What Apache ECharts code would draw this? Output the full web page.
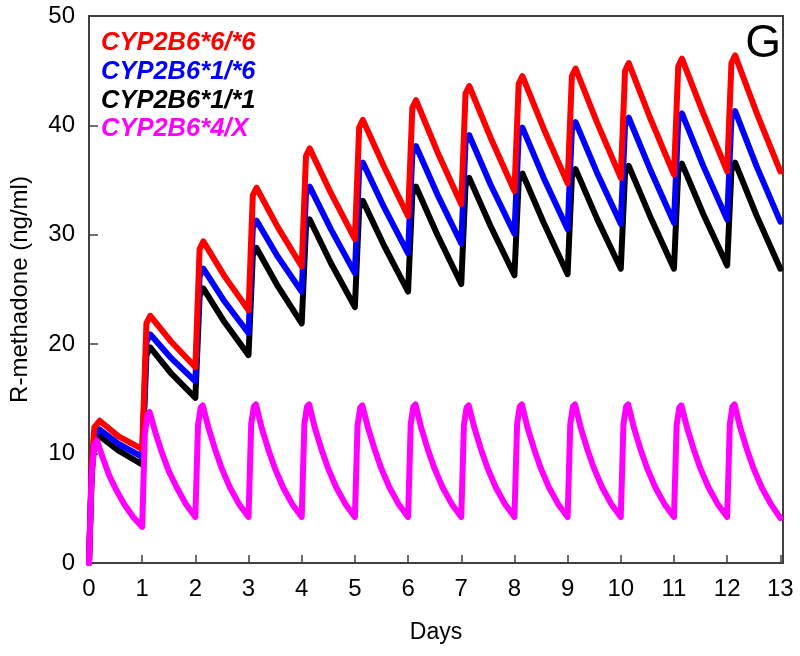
<!DOCTYPE html>
<html><head><meta charset="utf-8">
<script src="https://cdn.jsdelivr.net/npm/echarts@6/dist/echarts.min.js"></script>
<style>html,body{margin:0;padding:0;background:#fff}#c{width:800px;height:656px}</style>
</head><body><div id="c"></div>
<script>
// Time points (days) for the three CYP2B6 *6/*6, *1/*6, *1/*1 curves
const mainTimes = [0,0.05,0.1,0.2,0.55,
 1,1.08,1.15,1.55, 2,2.08,2.15,2.55, 3,3.08,3.15,3.55, 4,4.08,4.15,4.55,
 5,5.08,5.15,5.55, 6,6.08,6.15,6.55, 7,7.08,7.15,7.55, 8,8.08,8.15,8.55,
 9,9.08,9.15,9.55, 10,10.08,10.15,10.55, 11,11.08,11.15,11.55, 12,12.08,12.15,12.55, 13];
const red66 = [0,9.0,12.4,13.0,11.6,
 10.4,21.9,22.6,20.2, 17.9,28.7,29.4,26.2, 23.1,33.6,34.3,30.7, 27.1,37.2,37.9,33.8,
 29.6,39.8,40.5,36.2, 31.7,41.6,42.3,37.6, 32.8,42.9,43.6,38.9, 34.0,43.8,44.5,39.7,
 34.7,44.5,45.2,40.3, 35.2,45.0,45.7,40.7, 35.5,45.4,46.1,41.1, 35.8,45.7,46.4,41.2, 35.8];
const blue16 = [0,8.5,11.6,12.2,10.9,
 9.7,20.2,20.9,18.7, 16.6,26.2,26.9,23.9, 21.0,30.6,31.3,28.0, 24.8,33.7,34.4,30.5,
 26.5,35.9,36.6,32.5, 28.3,37.4,38.1,33.7, 29.2,38.4,39.1,34.6, 30.1,39.1,39.8,35.2,
 30.5,39.6,40.3,35.7, 31.0,40.0,40.7,36.0, 31.1,40.4,41.1,36.3, 31.4,40.6,41.3,36.3, 31.2];
const black11 = [0,8.0,11.0,11.6,10.3,
 9.0,19.0,19.7,17.3, 15.1,24.4,25.1,22.0, 19.0,28.1,28.8,25.3, 21.9,30.7,31.4,27.4,
 23.4,32.4,33.1,29.0, 24.8,33.7,34.4,30.0, 25.5,34.5,35.2,30.8, 26.3,34.9,35.6,31.1,
 26.4,35.3,36.0,31.5, 26.9,35.6,36.3,31.7, 26.9,35.8,36.5,31.9, 27.2,35.9,36.6,31.8, 26.9];
// Time points for the CYP2B6*4/X curve
const magTimes = [0,0.05,0.1,0.15,0.26,0.38,0.51,0.66,0.83,
 1,1.05,1.1,1.14,1.25,1.37,1.5,1.65,1.82,
 2,2.05,2.1,2.14,2.25,2.37,2.5,2.65,2.82,
 3,3.05,3.1,3.14,3.25,3.37,3.5,3.65,3.82,
 4,4.05,4.1,4.14,4.25,4.37,4.5,4.65,4.82,
 5,5.05,5.1,5.14,5.25,5.37,5.5,5.65,5.82,
 6,6.05,6.1,6.14,6.25,6.37,6.5,6.65,6.82,
 7,7.05,7.1,7.14,7.25,7.37,7.5,7.65,7.82,
 8,8.05,8.1,8.14,8.25,8.37,8.5,8.65,8.82,
 9,9.05,9.1,9.14,9.25,9.37,9.5,9.65,9.82,
 10,10.05,10.1,10.14,10.25,10.37,10.5,10.65,10.82,
 11,11.05,11.1,11.14,11.25,11.37,11.5,11.65,11.82,
 12,12.05,12.1,12.14,12.25,12.37,12.5,12.65,12.82, 13];
const mag4X = [0,8.0,10.8,11.2,9.6,8.0,6.7,5.4,4.2,
 3.3,11.8,13.5,13.8,11.9,10.1,8.4,6.9,5.4,
 4.2,12.6,14.2,14.4,12.3,10.4,8.6,6.9,5.4,
 4.2,12.7,14.3,14.5,12.3,10.4,8.6,6.9,5.4,
 4.2,12.7,14.3,14.5,12.3,10.4,8.6,6.9,5.4,
 4.2,12.6,14.2,14.4,12.3,10.4,8.6,6.9,5.4,
 4.2,12.7,14.3,14.5,12.3,10.4,8.6,6.9,5.4,
 4.2,12.6,14.2,14.4,12.3,10.4,8.6,6.9,5.4,
 4.2,12.7,14.3,14.5,12.3,10.4,8.6,6.9,5.4,
 4.2,12.7,14.3,14.5,12.3,10.4,8.6,6.9,5.4,
 4.2,12.7,14.3,14.5,12.3,10.4,8.6,6.9,5.4,
 4.2,12.6,14.2,14.4,12.3,10.4,8.6,6.9,5.4,
 4.2,12.7,14.3,14.5,12.3,10.4,8.6,6.9,5.4, 4.1];

const names = ['CYP2B6*6/*6','CYP2B6*1/*6','CYP2B6*1/*1','CYP2B6*4/X'];
const colors = ['#ff0000','#0000ff','#000000','#ff00ff'];
const xTicks = [0,1,2,3,4,5,6,7,8,9,10,11,12,13];
const yTicks = [0,10,20,30,40,50];
const panelLabel = 'G';

const zip = (t, v) => t.map((x, i) => [x, v[i]]);
const FONT = 'Liberation Sans, Arial, sans-serif';
const AX = '#404040';

const chart = echarts.init(document.getElementById('c'), null, {renderer: 'canvas'});
const mk = (idx, t, v, z) => ({
  name: names[idx], type: 'line', data: zip(t, v), showSymbol: false, symbol: 'none',
  lineStyle: {color: colors[idx], width: 6, join: 'round', cap: 'round'},
  itemStyle: {color: colors[idx]}, z: z, animation: false, clip: true
});
chart.setOption({
  backgroundColor: '#fff',
  animation: false,
  grid: {left: 87, right: 17, top: 16, bottom: 93, show: true, borderColor: AX, borderWidth: 2, backgroundColor: 'transparent'},
  xAxis: {
    type: 'value', min: 0, max: 13.05, interval: 1,
    name: 'Days', nameLocation: 'middle', nameGap: 58,
    nameTextStyle: {fontFamily: FONT, fontSize: 23, color: '#000'},
    axisLine: {show: true, lineStyle: {color: AX, width: 2}},
    axisTick: {show: true, inside: true, length: 8, lineStyle: {color: AX, width: 1.5}},
    axisLabel: {fontFamily: FONT, fontSize: 24, color: '#000', margin: 14,
      formatter: v => xTicks.includes(Math.round(v*1000)/1000) ? String(v) : ''},
    splitLine: {show: false}
  },
  yAxis: {
    type: 'value', min: 0, max: 50, interval: 10,
    name: 'R-methadone (ng/ml)', nameLocation: 'middle', nameGap: 57,
    nameTextStyle: {fontFamily: FONT, fontSize: 24, color: '#000'},
    axisLine: {show: true, lineStyle: {color: AX, width: 2}},
    axisTick: {show: true, inside: true, length: 9, lineStyle: {color: AX, width: 1.5}},
    axisLabel: {fontFamily: FONT, fontSize: 24, color: '#000', margin: 14,
      formatter: v => yTicks.includes(v) ? String(v) : ''},
    splitLine: {show: false}
  },
  series: [
    mk(2, mainTimes, black11, 2),
    mk(1, mainTimes, blue16, 3),
    mk(0, mainTimes, red66, 4),
    mk(3, magTimes, mag4X, 5)
  ],
  graphic: [
    ...names.map((n, i) => ({
      type: 'text', left: 101, top: 30 + i * 28.8, z: 10,
      style: {text: n, fill: colors[i], font: 'italic bold 25.5px ' + FONT}
    })),
    {type: 'text', right: 19, top: 21, z: 10,
     style: {text: panelLabel, fill: '#000', font: '46px ' + FONT}}
  ]
});
</script></body></html>
